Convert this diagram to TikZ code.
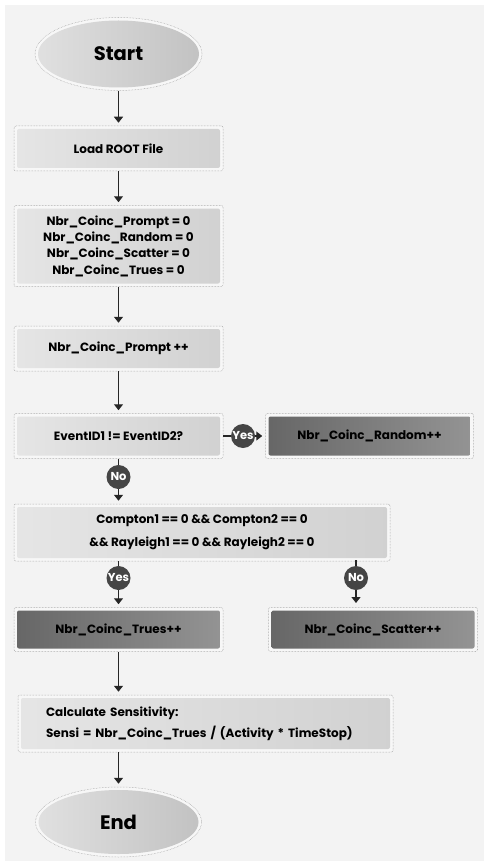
\documentclass[tikz,border=0pt]{standalone}
\usepackage{fontspec}
\setmainfont{Poppins}
\usetikzlibrary{arrows.meta,positioning,calc,shapes.geometric}
\definecolor{bgcol}{HTML}{F3F3F3}
\definecolor{badgecol}{HTML}{454545}
\tikzset{
  frame/.style={draw=black!45, densely dotted, line width=0.5pt, fill=white!97!black, rounded corners=2pt, inner sep=0pt},
  lightbox/.style={frame, minimum width=209pt, minimum height=45pt, align=center, font=\bfseries\fontsize{12}{16.3}\selectfont,
    path picture={\shade[left color=black!10, right color=black!18, rounded corners=2pt]
      ([shift={(3pt,-3pt)}]path picture bounding box.north west) rectangle ([shift={(-3pt,3pt)}]path picture bounding box.south east);}},
  darkbox/.style={frame, minimum width=209pt, minimum height=44pt, align=center, font=\bfseries\fontsize{12}{16.3}\selectfont,
    path picture={\shade[left color=black!60, right color=black!42, rounded corners=2pt]
      ([shift={(3pt,-3pt)}]path picture bounding box.north west) rectangle ([shift={(-3pt,3pt)}]path picture bounding box.south east);}},
  terminal/.style={ellipse, draw=black!40, densely dotted, line width=0.5pt, fill=white!97!black, minimum width=167pt, minimum height=73pt, font=\bfseries\fontsize{19.5}{22}\selectfont,
    path picture={\shade[left color=black!12, right color=black!24]
      let \p1=($(path picture bounding box.north east)-(path picture bounding box.center)$) in
      (path picture bounding box.center) ellipse [x radius=\x1-3pt, y radius=\y1-3pt];}},
  badge/.style={circle, fill=badgecol, text=white, minimum size=24pt, inner sep=0pt, font=\bfseries\fontsize{11.5}{12}\selectfont},
  arrow/.style={-{Triangle[width=9pt,length=6pt]}, line width=1.3pt, black!85, shorten >=3pt}
}

\begin{document}
\begin{tikzpicture}[x=1pt, y=1pt]
\useasboundingbox (0,0) rectangle (484,-861);
\fill[bgcol] (5,-5) rectangle (484,-861);
\node[terminal] (start) at (118.5,-54) {Start};
\node[lightbox, below=35pt of start] (load) {Load ROOT File};
\node[lightbox, minimum height=81pt, below=34pt of load] (init) {Nbr\_Coinc\_Prompt = 0\\Nbr\_Coinc\_Random = 0\\Nbr\_Coinc\_Scatter = 0\\Nbr\_Coinc\_Trues = 0};
\node[lightbox, below=39pt of init] (prompt) {Nbr\_Coinc\_Prompt ++};
\node[lightbox, below=42pt of prompt] (event) {EventID1 != EventID2?};
\node[darkbox, minimum width=208pt, minimum height=45pt, right=42pt of event] (random) {Nbr\_Coinc\_Random++};
\node[lightbox, minimum width=376pt, minimum height=57pt, below=45pt of event.south west, anchor=north west] (cond) {Compton1 == 0 \&\& Compton2 == 0\\[6.7pt]\&\& Rayleigh1 == 0 \&\& Rayleigh2 == 0};
\node[darkbox, below=46pt of cond.south west, anchor=north west] (trues) {Nbr\_Coinc\_Trues++};
\node[darkbox, right=45pt of trues] (scatter) {Nbr\_Coinc\_Scatter++};
\node[lightbox, minimum width=375pt, minimum height=57pt, inner xsep=28pt, text width=319pt, align=left, below=43pt of trues.south west, anchor=north west, xshift=4pt] (calc) {Calculate Sensitivity:\\[4.7pt]Sensi = Nbr\_Coinc\_Trues / (Activity * TimeStop)};
\node[terminal, minimum width=166pt, minimum height=70pt] (stop) at (118.5,-822) {End};
% connectors
\draw[arrow] (start) -- (load);
\draw[arrow] (load) -- (init);
\draw[arrow] (init) -- (prompt);
\draw[arrow] (prompt) -- (event);
\draw[arrow] (event) -- (random);
\draw[arrow] (event) -- (event |- cond.north);
\draw[arrow] (trues |- cond.south) -- (trues);
\draw[arrow] (356,-560) -- (356,-606);
\draw[arrow] (trues) -- (trues |- calc.north);
\draw[arrow] (start |- calc.south) -- (stop);
% decision labels
\node[badge] (yesA) at (243,-436) {Yes};
\node[badge] (noA) at (118.5,-477) {No};
\node[badge] (yesB) at (118.5,-578) {Yes};
\node[badge] (noB) at (356,-578) {No};
\end{tikzpicture}
\end{document}
